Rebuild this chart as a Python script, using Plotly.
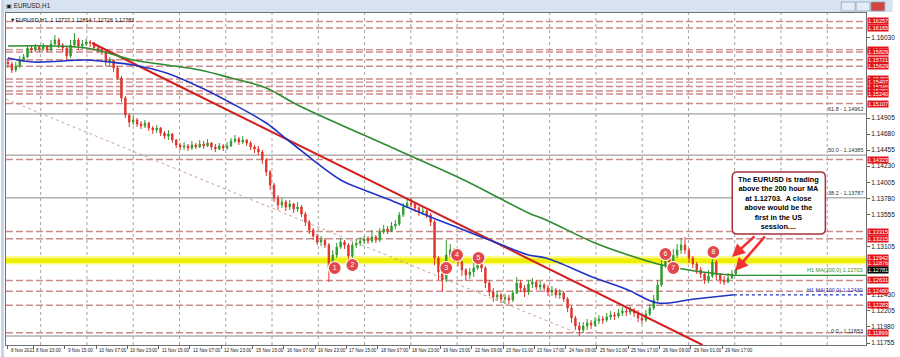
import plotly.graph_objects as go

# ---------------- data (EURUSD, 2-hour candles) ----------------
FIRST_OPEN = 1.15689
CLOSE = [
    1.15661, 1.15577, 1.15633, 1.15717, 1.15759, 1.15885, 1.15857, 1.15899, 1.15871, 1.15913,
    1.15857, 1.15941, 1.15997, 1.15927, 1.15885, 1.15773, 1.15927, 1.15997, 1.15913, 1.15941,
    1.15969, 1.15955, 1.15885, 1.15857, 1.15829, 1.15689, 1.15717, 1.15605, 1.15465, 1.15185,
    1.14947, 1.14849, 1.14877, 1.14821, 1.14793, 1.14835, 1.14765, 1.14737, 1.14765, 1.14695,
    1.14653, 1.14681, 1.14597, 1.14527, 1.14499, 1.14513, 1.14485, 1.14527, 1.14499, 1.14541,
    1.14513, 1.14555, 1.14499, 1.14471, 1.14513, 1.14485, 1.14513, 1.14583, 1.14611, 1.14569,
    1.14597, 1.14555, 1.14499, 1.14471, 1.14429, 1.14317, 1.14149, 1.13967, 1.13785, 1.13687,
    1.13729, 1.13659, 1.13701, 1.13631, 1.13659, 1.13561, 1.13449, 1.13337, 1.13253, 1.13169,
    1.13197, 1.13127, 1.12805, 1.12987, 1.13099, 1.13169, 1.13127, 1.12973, 1.13127, 1.13155,
    1.13183, 1.13211, 1.13183, 1.13239, 1.13197, 1.13309, 1.13351, 1.13323, 1.13393, 1.13421,
    1.13547, 1.13659, 1.13715, 1.13701, 1.13645, 1.13589, 1.13603, 1.13547, 1.13449, 1.12945,
    1.12749, 1.12637, 1.12987, 1.13057, 1.12973, 1.12889, 1.12777, 1.12707, 1.12749, 1.12805,
    1.12889, 1.12805, 1.12595, 1.12469, 1.12399, 1.12427, 1.12371, 1.12385, 1.12357, 1.12455,
    1.12595, 1.12525, 1.12469, 1.12581, 1.12609, 1.12539, 1.12567, 1.12525, 1.12469, 1.12497,
    1.12427, 1.12455, 1.12371, 1.12245, 1.12105, 1.11993, 1.11937, 1.11993, 1.12035, 1.12007,
    1.12063, 1.12091, 1.12077, 1.12119, 1.12147, 1.12133, 1.12175, 1.12203, 1.12189, 1.12217,
    1.12175, 1.12105, 1.12077, 1.12161, 1.12245, 1.12357, 1.12567, 1.12847, 1.12945, 1.12889,
    1.12987, 1.13057, 1.13127, 1.13057, 1.12945, 1.12861, 1.12777, 1.12721, 1.12637, 1.12693,
    1.12889, 1.12707, 1.12637, 1.12609, 1.12665, 1.12721, 1.12781,
]
HIGH = [
    1.15745, 1.15689, 1.15689, 1.15773, 1.15801, 1.15927, 1.15913, 1.15941, 1.15927, 1.15955,
    1.15927, 1.15997, 1.16067, 1.16025, 1.15955, 1.15913, 1.15997, 1.16095, 1.16025, 1.15997,
    1.16011, 1.15997, 1.15969, 1.15913, 1.15885, 1.15857, 1.15759, 1.15717, 1.15633, 1.15493,
    1.15213, 1.14975, 1.14933, 1.14905, 1.14863, 1.14877, 1.14849, 1.14793, 1.14807, 1.14779,
    1.14723, 1.14737, 1.14695, 1.14611, 1.14555, 1.14569, 1.14541, 1.14583, 1.14555, 1.14597,
    1.14583, 1.14611, 1.14569, 1.14541, 1.14555, 1.14541, 1.14569, 1.14625, 1.14667, 1.14639,
    1.14653, 1.14611, 1.14583, 1.14527, 1.14513, 1.14457, 1.14345, 1.14177, 1.13995, 1.13827,
    1.13785, 1.13757, 1.13757, 1.13715, 1.13729, 1.13687, 1.13589, 1.13477, 1.13365, 1.13281,
    1.13253, 1.13225, 1.13155, 1.13057, 1.13155, 1.13225, 1.13197, 1.13155, 1.13169, 1.13211,
    1.13239, 1.13253, 1.13253, 1.13337, 1.13267, 1.13365, 1.13407, 1.13393, 1.13449, 1.13477,
    1.13589, 1.13715, 1.13771, 1.13785, 1.13729, 1.13673, 1.13659, 1.13645, 1.13575, 1.13477,
    1.12973, 1.12805, 1.13197, 1.13141, 1.13085, 1.13029, 1.12917, 1.12805, 1.12805, 1.12875,
    1.12987, 1.12945, 1.12833, 1.12637, 1.12525, 1.12483, 1.12455, 1.12441, 1.12427, 1.12497,
    1.12679, 1.12637, 1.12567, 1.12637, 1.12665, 1.12637, 1.12623, 1.12595, 1.12567, 1.12553,
    1.12525, 1.12511, 1.12483, 1.12399, 1.12273, 1.12133, 1.12049, 1.12049, 1.12091, 1.12077,
    1.12119, 1.12147, 1.12133, 1.12175, 1.12203, 1.12189, 1.12231, 1.12259, 1.12245, 1.12273,
    1.12245, 1.12217, 1.12147, 1.12217, 1.12301, 1.12427, 1.12637, 1.12917, 1.13029, 1.12987,
    1.13071, 1.13141, 1.13225, 1.13239, 1.13085, 1.12973, 1.12889, 1.12819, 1.12749, 1.12777,
    1.13015, 1.12917, 1.12735, 1.12693, 1.12735, 1.12777, 1.12814,
]
LOW = [
    1.15605, 1.15535, 1.15549, 1.15605, 1.15689, 1.15745, 1.15815, 1.15829, 1.15829, 1.15843,
    1.15829, 1.15843, 1.15927, 1.15885, 1.15829, 1.15717, 1.15745, 1.15899, 1.15857, 1.15871,
    1.15913, 1.15899, 1.15843, 1.15815, 1.15787, 1.15633, 1.15619, 1.15549, 1.15437, 1.15129,
    1.14905, 1.14779, 1.14807, 1.14779, 1.14751, 1.14765, 1.14723, 1.14681, 1.14695, 1.14653,
    1.14611, 1.14597, 1.14555, 1.14485, 1.14457, 1.14457, 1.14443, 1.14457, 1.14471, 1.14485,
    1.14471, 1.14499, 1.14457, 1.14429, 1.14457, 1.14443, 1.14457, 1.14499, 1.14555, 1.14527,
    1.14541, 1.14513, 1.14457, 1.14415, 1.14387, 1.14261, 1.14093, 1.13897, 1.13729, 1.13617,
    1.13645, 1.13603, 1.13617, 1.13575, 1.13589, 1.13519, 1.13393, 1.13281, 1.13197, 1.13127,
    1.13113, 1.13085, 1.12609, 1.12791, 1.12945, 1.13071, 1.13071, 1.12917, 1.12945, 1.13085,
    1.13113, 1.13141, 1.13141, 1.13155, 1.13155, 1.13169, 1.13281, 1.13281, 1.13309, 1.13351,
    1.13393, 1.13519, 1.13645, 1.13659, 1.13589, 1.13533, 1.13547, 1.13505, 1.13393, 1.12847,
    1.12637, 1.12469, 1.12609, 1.12945, 1.12889, 1.12833, 1.12693, 1.12623, 1.12651, 1.12679,
    1.12777, 1.12749, 1.12525, 1.12413, 1.12329, 1.12343, 1.12315, 1.12301, 1.12301, 1.12329,
    1.12441, 1.12469, 1.12399, 1.12427, 1.12525, 1.12497, 1.12497, 1.12469, 1.12413, 1.12413,
    1.12385, 1.12371, 1.12329, 1.12189, 1.12035, 1.11937, 1.11853, 1.11895, 1.11937, 1.11951,
    1.11979, 1.12021, 1.12021, 1.12049, 1.12077, 1.12077, 1.12105, 1.12133, 1.12133, 1.12147,
    1.12119, 1.12049, 1.12021, 1.12049, 1.12133, 1.12217, 1.12329, 1.12539, 1.12805, 1.12805,
    1.12847, 1.12945, 1.13001, 1.13001, 1.12875, 1.12805, 1.12721, 1.12665, 1.12581, 1.12595,
    1.12665, 1.12637, 1.12581, 1.12567, 1.12595, 1.12651, 1.12693,
]
BAR_HOURS_PER_CANDLE = 2

# moving averages (read at sample points; x in hours from the first bar)
MA100_HOURS = [0, 13, 40, 52, 64, 81, 98, 114, 132, 143, 170, 182, 199, 216, 233, 250, 266, 275, 300, 317, 332, 351, 371]
MA100 = [1.15745, 1.15689, 1.15717, 1.15689, 1.15647, 1.15535, 1.15339, 1.15115, 1.14835, 1.14597,
         1.14037, 1.13897, 1.13715, 1.13519, 1.13337, 1.13155, 1.12987, 1.12945, 1.12665, 1.12497,
         1.12315, 1.12371, 1.12430]
MA200_HOURS = [0, 40, 64, 81, 98, 114, 132, 148, 199, 233, 250, 266, 275, 300, 317, 332, 351, 371]
MA200 = [1.15913, 1.15885, 1.15717, 1.15647, 1.15577, 1.15465, 1.15325, 1.15087, 1.14457, 1.14037,
         1.13799, 1.13575, 1.13477, 1.13155, 1.12987, 1.12861, 1.12763, 1.12703]
MA100_LABEL = "H1 MA(100,0) 1.12430"
MA200_LABEL = "H1 MA(200,0) 1.12703"

# trend lines (hour, price)
TREND_RED = [(43, 1.15955), (355, 1.11727)]
TREND_DOTTED = [(-1, 1.15168), (292, 1.11880)]

# horizontal levels
DASHED_LEVELS = [1.16257, 1.16165, 1.15862, 1.15829, 1.15721, 1.15629, 1.15450, 1.15407, 1.15346,
                 1.15282, 1.15240, 1.15107, 1.14323, 1.13315, 1.13215, 1.12631, 1.12480, 1.12283, 1.11899]
BAND = (1.12876, 1.12942)
FIB_NAMES = ["61.8", "50.0", "38.2", "0.0"]
FIB_LEVELS = [1.14962, 1.14385, 1.13787, 1.11853]
LAST_PRICE = 1.12781
HEADER = "\u25BCEURUSD,H1  1.12727 1.12814 1.12726 1.12781"

# numbered swing markers
MARK_NUM = ["1", "2", "3", "4", "5", "6", "7", "8"]
MARK_HOURS = [167, 176, 224, 229.5, 240.5, 336, 340, 360.5]
MARK_PRICES = [1.12805, 1.12847, 1.12805, 1.12987, 1.12945, 1.13001, 1.12805, 1.13029]

# price axis (labels not hidden behind the price tags)
PRICE_TICKS = [1.16030, 1.14905, 1.14680, 1.14455, 1.14230, 1.14005, 1.13780, 1.13555,
               1.13105, 1.12430, 1.12205, 1.11980, 1.11755]
# time axis
TIME_LABELS = ["8 Nov 2021", "8 Nov 23:00", "9 Nov 15:00", "10 Nov 07:00", "10 Nov 23:00", "11 Nov 15:00",
               "12 Nov 07:00", "12 Nov 23:00", "15 Nov 15:00", "16 Nov 07:00", "16 Nov 23:00",
               "17 Nov 15:00", "18 Nov 07:00", "18 Nov 23:00", "19 Nov 15:00", "22 Nov 09:00",
               "23 Nov 01:00", "23 Nov 17:00", "24 Nov 09:00", "25 Nov 01:00", "25 Nov 17:00",
               "26 Nov 09:00", "29 Nov 01:00", "29 Nov 17:00"]
TIME_HOURS = [0, 13, 29, 45, 61, 77, 93, 109, 125, 141, 157, 173, 189, 205, 221, 237, 253, 269,
              285, 301, 317, 333, 349, 365]

NOTE = ["The EURUSD is trading", "above the 200 hour MA", "at 1.12703.  A close",
        "above would be the", "first in the US", "session...."]

# ---------------- layout geometry ----------------
W, H = 900, 357
LM, RM, TM, BM = 5, 27, 13, 12
PW, PH = W - LM - RM, H - TM - BM
X_RANGE = [-1.0, 438.5]
Y_RANGE = [1.11727, 1.16375]
FONT = "Liberation Sans, Arial, sans-serif"


def px(xp):
    return (xp - LM) / PW


def py(yp):
    return (H - BM - yp) / PH


fig = go.Figure()

OPEN = [FIRST_OPEN] + CLOSE[:-1]
BAR_X = [i * BAR_HOURS_PER_CANDLE for i in range(len(CLOSE))]

shapes = []
annotations = []

# vertical dotted grid
gx = 40.0
while gx < LM + PW - 2:
    shapes.append(dict(type="line", xref="paper", yref="paper", x0=px(gx), x1=px(gx), y0=0, y1=1,
                       line=dict(color="#a4a4a4", width=1, dash="dot"), layer="below"))
    gx += 46.7

# yellow band
shapes.append(dict(type="rect", xref="paper", yref="y", x0=0, x1=1, y0=BAND[0] - 0.00022, y1=BAND[1] + 0.00030,
                   fillcolor="#fbfb8a", line=dict(width=0), layer="below"))
shapes.append(dict(type="rect", xref="paper", yref="y", x0=0, x1=1, y0=BAND[0], y1=BAND[1],
                   fillcolor="#eeee00", line=dict(width=0), layer="below"))

# dashed support/resistance levels
for lv in DASHED_LEVELS:
    shapes.append(dict(type="line", xref="paper", yref="y", x0=0, x1=1, y0=lv, y1=lv,
                       line=dict(color="#c98c8c", width=1.4, dash="7px,3px"), layer="below"))

# fibonacci levels
for name, lv in zip(FIB_NAMES, FIB_LEVELS):
    shapes.append(dict(type="line", xref="paper", yref="y", x0=0, x1=1, y0=lv, y1=lv,
                       line=dict(color="#8a8a8a", width=1), layer="below"))
    annotations.append(dict(xref="paper", yref="y", x=1, y=lv, xanchor="right", yanchor="bottom",
                            xshift=-1, yshift=0, text=f"{name} - {lv:.5f}", showarrow=False,
                            font=dict(family=FONT, size=5.5, color="#303030")))

# candles
fig.add_trace(go.Candlestick(
    x=BAR_X, open=OPEN, high=HIGH, low=LOW, close=CLOSE,
    increasing=dict(line=dict(color="#2f9e2f", width=1), fillcolor="#2f9e2f"),
    decreasing=dict(line=dict(color="#e0342c", width=1), fillcolor="#e0342c"),
    whiskerwidth=0, hoverinfo="skip", showlegend=False))

# dotted channel line & red trend line
fig.add_trace(go.Scatter(x=[p[0] for p in TREND_DOTTED], y=[p[1] for p in TREND_DOTTED], mode="lines",
                         line=dict(color="#c9a3a3", width=1, dash="dot"), hoverinfo="skip", showlegend=False))
fig.add_trace(go.Scatter(x=[p[0] for p in TREND_RED], y=[p[1] for p in TREND_RED], mode="lines",
                         line=dict(color="#d01f1f", width=2), hoverinfo="skip", showlegend=False))

# moving averages
fig.add_trace(go.Scatter(x=MA200_HOURS, y=MA200, mode="lines", line=dict(color="#2e8b2e", width=1.6, shape="spline"),
                         hoverinfo="skip", showlegend=False))
fig.add_trace(go.Scatter(x=MA100_HOURS, y=MA100, mode="lines", line=dict(color="#2233c4", width=1.6, shape="spline"),
                         hoverinfo="skip", showlegend=False))
# MA value lines to the right edge
fig.add_trace(go.Scatter(x=[MA200_HOURS[-1], X_RANGE[1]], y=[MA200[-1], MA200[-1]], mode="lines",
                         line=dict(color="#2e8b2e", width=1.2), hoverinfo="skip", showlegend=False))
fig.add_trace(go.Scatter(x=[MA100_HOURS[-1], X_RANGE[1]], y=[MA100[-1], MA100[-1]], mode="lines",
                         line=dict(color="#2233c4", width=1.2, dash="dot"), hoverinfo="skip", showlegend=False))
annotations.append(dict(xref="paper", yref="y", x=1, y=MA200[-1], xanchor="right", yanchor="bottom", xshift=-1,
                        text=MA200_LABEL, showarrow=False, font=dict(family=FONT, size=5.5, color="#2e8b2e")))
annotations.append(dict(xref="paper", yref="y", x=1, y=MA100[-1], xanchor="right", yanchor="bottom", xshift=-1,
                        text=MA100_LABEL, showarrow=False, font=dict(family=FONT, size=5.5, color="#2233c4")))

# numbered markers
fig.add_trace(go.Scatter(x=MARK_HOURS, y=MARK_PRICES, mode="markers+text", text=MARK_NUM,
                         textposition="middle center",
                         textfont=dict(family=FONT, size=7, color="white"),
                         marker=dict(size=13, color="#e2474b", line=dict(color="white", width=1.2)),
                         hoverinfo="skip", showlegend=False))

# right-side price tags
for lv in DASHED_LEVELS + list(BAND):
    annotations.append(dict(xref="paper", yref="y", x=1, y=lv, xanchor="left", yanchor="middle", xshift=1,
                            text=f"{lv:.5f}", showarrow=False, bgcolor="#e3141d", borderpad=0,
                            font=dict(family=FONT, size=5.6, color="white")))
annotations.append(dict(xref="paper", yref="y", x=1, y=LAST_PRICE, xanchor="left", yanchor="middle", xshift=1,
                        text=f"{LAST_PRICE:.5f}", showarrow=False, bgcolor="#000000", borderpad=0,
                        font=dict(family=FONT, size=5.6, color="white")))

# note box (rounded)
bx0, bx1, by0, by1, r = 738, 832, 172, 234, 5
pts = [("M", bx0 + r, by0), ("L", bx1 - r, by0), ("Q", bx1, by0, bx1, by0 + r), ("L", bx1, by1 - r),
       ("Q", bx1, by1, bx1 - r, by1), ("L", bx0 + r, by1), ("Q", bx0, by1, bx0, by1 - r),
       ("L", bx0, by0 + r), ("Q", bx0, by0, bx0 + r, by0)]
path = ""
for p in pts:
    cmd = p[0]
    coords = p[1:]
    seg = " ".join(f"{px(coords[i]):.5f},{py(coords[i + 1]):.5f}" for i in range(0, len(coords), 2))
    path += f"{cmd}{seg} "
path += "Z"
shapes.append(dict(type="path", xref="paper", yref="paper", path=path, fillcolor="white",
                   line=dict(color="#a8323a", width=1.5), layer="above"))
annotations.append(dict(xref="paper", yref="paper", x=px((bx0 + bx1) / 2), y=py((by0 + by1) / 2),
                        xanchor="center", yanchor="middle", showarrow=False, align="center",
                        text="<br>".join(f"<b>{t}</b>" for t in NOTE),
                        font=dict(family=FONT, size=7.3, color="black")))

# red arrows from the note to the price
for hx, hp, ax, ay in [(370.0, 1.12959, 24, -22), (371.6, 1.12763, 31, -36)]:
    annotations.append(dict(xref="x", yref="y", x=hx, y=hp, ax=ax, ay=ay, showarrow=True, text="",
                            arrowhead=2, arrowsize=1, arrowwidth=2.6, arrowcolor="#f03232"))

# time axis labels
for lab, hr in zip(TIME_LABELS, TIME_HOURS):
    annotations.append(dict(xref="x", yref="paper", x=hr, y=py(350), xanchor="left", yanchor="middle",
                            xshift=1, text=lab, showarrow=False, font=dict(family=FONT, size=4.6, color="#202020")))

# header line
annotations.append(dict(xref="paper", yref="paper", x=px(7), y=py(20), xanchor="left", yanchor="middle",
                        text=HEADER, showarrow=False, font=dict(family=FONT, size=5.5, color="#111111")))

# window chrome: title bar, left frame, buttons
shapes.append(dict(type="rect", xref="paper", yref="paper", x0=px(0), x1=px(900), y0=py(12), y1=py(0),
                   fillcolor="#d8e3f1", line=dict(width=0), layer="above"))
shapes.append(dict(type="rect", xref="paper", yref="paper", x0=px(0), x1=px(3), y0=py(357), y1=py(0),
                   fillcolor="#c6d5ea", line=dict(width=0), layer="above"))
for i, (bx, col) in enumerate([(848, "#e4ecf7"), (863, "#e4ecf7"), (878, "#d2473c")]):
    shapes.append(dict(type="rect", xref="paper", yref="paper", x0=px(bx), x1=px(bx + 14), y0=py(11), y1=py(2),
                       fillcolor=col, line=dict(color="#8ea4c4", width=0.8), layer="above"))
annotations.append(dict(xref="paper", yref="paper", x=px(3), y=py(6), xanchor="left", yanchor="middle",
                        text="\u25A3 EURUSD,H1", showarrow=False, font=dict(family=FONT, size=6.3, color="#222222")))

fig.update_layout(
    width=W, height=H, margin=dict(l=LM, r=RM, t=TM, b=BM),
    paper_bgcolor="white", plot_bgcolor="white",
    shapes=shapes, annotations=annotations, showlegend=False,
    boxgap=0.5,
    xaxis=dict(range=X_RANGE, rangeslider=dict(visible=False), showgrid=False, zeroline=False,
               showline=True, linecolor="#707070", mirror=True, tickvals=TIME_HOURS, ticks="outside",
               ticklen=3, tickcolor="#606060", showticklabels=False, fixedrange=True),
    yaxis=dict(range=Y_RANGE, side="right", showgrid=False, zeroline=False, showline=True,
               linecolor="#707070", mirror=True, tickvals=PRICE_TICKS, tickformat=".5f",
               ticks="outside", ticklen=3, tickcolor="#606060",
               tickfont=dict(family=FONT, size=6.5, color="#111111"), fixedrange=True),
)

fig.write_html("out.html")
